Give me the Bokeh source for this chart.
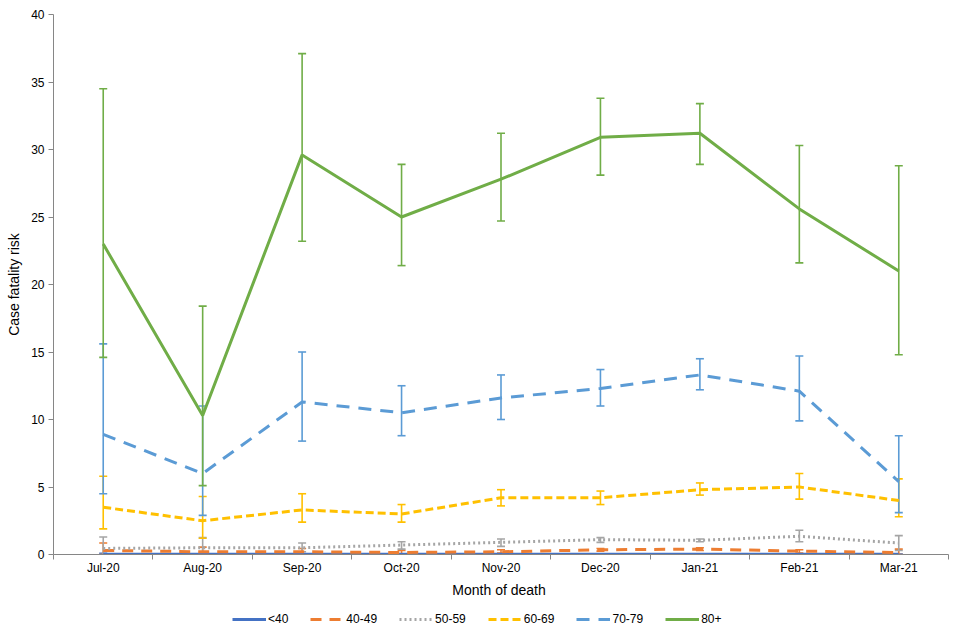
import numpy as np
from bokeh.plotting import figure
from bokeh.layouts import column
from bokeh.models import (ColumnDataSource, Whisker, TeeHead, FixedTicker,
                          Legend, LegendItem, Range1d)
from bokeh.embed import file_html
from bokeh.resources import INLINE

months = ["Jul-20", "Aug-20", "Sep-20", "Oct-20", "Nov-20", "Dec-20", "Jan-21", "Feb-21", "Mar-21"]

groups = ["<40", "40-49", "50-59", "60-69", "70-79", "80+"]

cfr_u40 = [0.02, 0.01, 0.01, 0.01, 0.01, 0.02, 0.02, 0.02, 0.01]
lo_u40 = [0.0, 0.0, 0.0, 0.0, 0.0, 0.01, 0.01, 0.01, 0.0]
hi_u40 = [0.08, 0.05, 0.04, 0.03, 0.03, 0.04, 0.04, 0.04, 0.04]

cfr_40 = [0.3, 0.2, 0.2, 0.15, 0.2, 0.35, 0.4, 0.25, 0.15]
lo_40 = [0.0, 0.0, 0.05, 0.05, 0.1, 0.25, 0.3, 0.1, 0.0]
hi_40 = [0.85, 0.55, 0.45, 0.3, 0.35, 0.45, 0.5, 0.35, 0.4]

cfr_50 = [0.45, 0.5, 0.5, 0.7, 0.9, 1.1, 1.05, 1.35, 0.85]
lo_50 = [0.0, 0.05, 0.2, 0.4, 0.6, 0.9, 0.95, 0.95, 0.3]
hi_50 = [1.3, 1.25, 0.85, 0.95, 1.15, 1.25, 1.15, 1.8, 1.4]

cfr_60 = [3.5, 2.5, 3.3, 3.0, 4.2, 4.2, 4.8, 5.0, 4.0]
lo_60 = [1.9, 1.2, 2.4, 2.4, 3.6, 3.7, 4.4, 4.1, 2.8]
hi_60 = [5.8, 4.3, 4.5, 3.7, 4.8, 4.7, 5.3, 6.0, 5.6]

cfr_70 = [8.9, 6.0, 11.3, 10.5, 11.6, 12.3, 13.3, 12.1, 5.4]
lo_70 = [4.5, 2.9, 8.4, 8.8, 10.0, 11.0, 12.2, 9.9, 3.1]
hi_70 = [15.6, 11.0, 15.0, 12.5, 13.3, 13.7, 14.5, 14.7, 8.8]

cfr_80 = [23.0, 10.3, 29.6, 25.0, 27.8, 30.9, 31.2, 25.6, 21.0]
lo_80 = [14.6, 5.1, 23.2, 21.4, 24.7, 28.1, 28.9, 21.6, 14.8]
hi_80 = [34.5, 18.4, 37.1, 28.9, 31.2, 33.8, 33.4, 30.3, 28.8]

y_ticks = [0, 5, 10, 15, 20, 25, 30, 35, 40]

series = [
    (groups[0], cfr_u40, lo_u40, hi_u40, "#4472C4", "solid"),
    (groups[1], cfr_40, lo_40, hi_40, "#ED7D31", "11 8"),
    (groups[2], cfr_50, lo_50, hi_50, "#A5A5A5", "2 3"),
    (groups[3], cfr_60, lo_60, hi_60, "#FFC000", "8 4"),
    (groups[4], cfr_70, lo_70, hi_70, "#5B9BD5", "13 9"),
    (groups[5], cfr_80, lo_80, hi_80, "#70AD47", "solid"),
]

FONT = "Liberation Sans"

p = figure(width=960, height=604, output_backend="svg", toolbar_location=None,
           x_range=Range1d(0, len(months)), y_range=Range1d(0, 40),
           min_border_left=53, min_border_top=14, min_border_right=12, min_border_bottom=50)
p.outline_line_color = None
p.grid.visible = False
p.background_fill_color = "white"

# legend-only strip below the chart (its data range lies outside the series values,
# so only the legend keys are visible)
lg = figure(width=960, height=36, output_backend="svg", toolbar_location=None,
            x_range=Range1d(0, len(months)), y_range=Range1d(-20, -10),
            x_axis_location=None, y_axis_location=None,
            min_border_left=0, min_border_right=0, min_border_top=0, min_border_bottom=0)
lg.outline_line_color = None
lg.grid.visible = False

xpos = np.arange(len(months)) + 0.5

items = []
for name, vals, lo, hi, color, dash in series:
    src = ColumnDataSource(dict(x=xpos, y=vals, lo=lo, hi=hi))
    p.line("x", "y", source=src, line_color=color, line_width=3, line_dash=dash)
    w = Whisker(base="x", lower="lo", upper="hi", source=src,
                line_color=color, line_width=1.6,
                upper_head=TeeHead(size=8, line_color=color, line_width=1.6),
                lower_head=TeeHead(size=8, line_color=color, line_width=1.6))
    p.add_layout(w)
    key = lg.line("x", "y", source=src, line_color=color, line_width=3, line_dash=dash)
    items.append(LegendItem(label=name, renderers=[key]))

# x axis
xa = p.xaxis[0]
xa.ticker = FixedTicker(ticks=list(xpos), minor_ticks=list(range(len(months) + 1)))
xa.major_label_overrides = {float(x): m for x, m in zip(xpos, months)}
xa.major_tick_line_color = None
xa.major_tick_out = 0
xa.major_tick_in = 0
xa.minor_tick_line_color = "#868686"
xa.minor_tick_out = 5
xa.minor_tick_in = 0
xa.axis_line_color = "#868686"
xa.major_label_text_font = FONT
xa.major_label_text_font_size = "12px"
xa.major_label_text_color = "#000000"
xa.major_label_standoff = 1
xa.axis_label = "Month  of death"
xa.axis_label_text_font = FONT
xa.axis_label_text_font_size = "14px"
xa.axis_label_text_font_style = "normal"
xa.axis_label_text_color = "#000000"
xa.axis_label_standoff = 4

ya = p.yaxis[0]
ya.ticker = FixedTicker(ticks=y_ticks, minor_ticks=[])
ya.major_tick_line_color = "#868686"
ya.major_tick_out = 5
ya.major_tick_in = 0
ya.axis_line_color = "#868686"
ya.major_label_text_font = FONT
ya.major_label_text_font_size = "12px"
ya.major_label_text_color = "#000000"
ya.major_label_standoff = 4
ya.axis_label = "Case fatality risk"
ya.axis_label_text_font = FONT
ya.axis_label_text_font_size = "14px"
ya.axis_label_text_font_style = "normal"
ya.axis_label_text_color = "#000000"
ya.axis_label_standoff = 6

legend = Legend(items=items, orientation="horizontal", location=(179, 14),
                glyph_width=34, glyph_height=14, label_height=14,
                label_text_font=FONT, label_text_font_size="12px",
                label_text_color="#000000", label_standoff=2, spacing=22,
                padding=4, margin=0, border_line_color=None,
                background_fill_alpha=0)
lg.add_layout(legend, "center")

layout = column(p, lg, spacing=0)
open("out.html", "w").write(file_html(layout, INLINE))
